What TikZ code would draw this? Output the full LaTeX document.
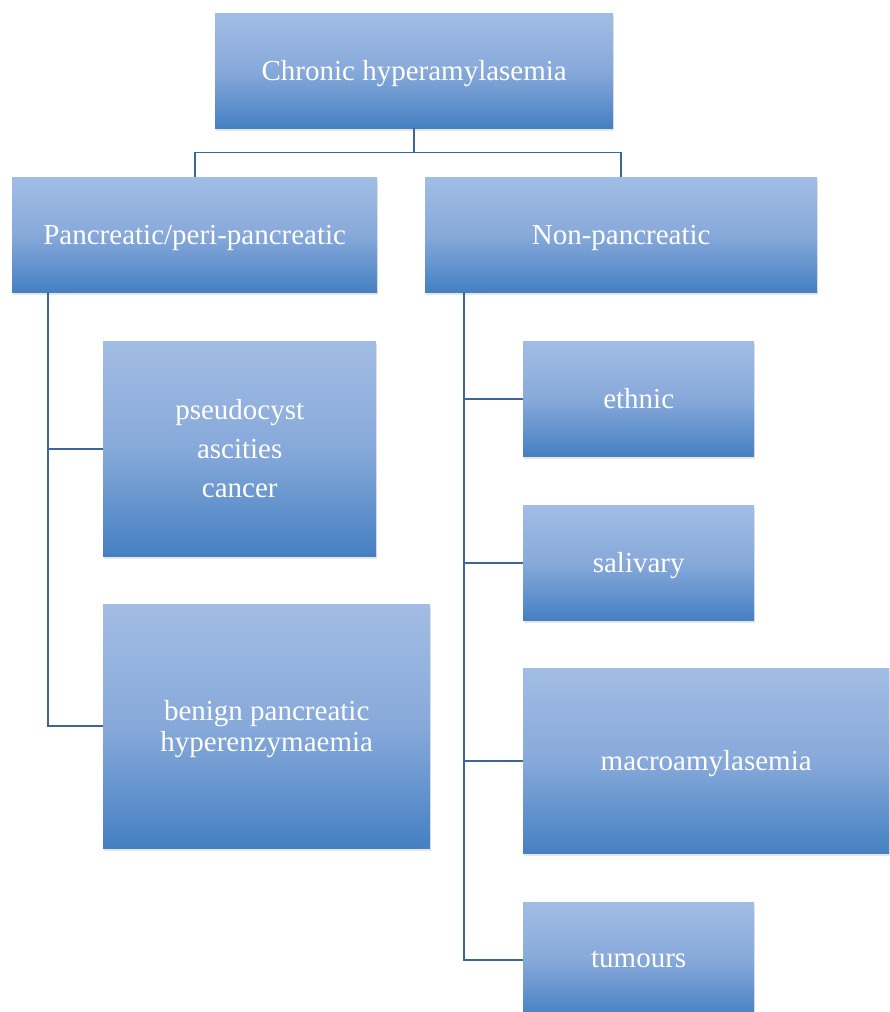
\documentclass[tikz,border=0pt]{standalone}
\usepackage{fontspec}
\setmainfont{Liberation Serif}
\usetikzlibrary{shadows}

\definecolor{boxtop}{HTML}{A2BDE4}
\definecolor{boxmid}{HTML}{87A9DA}
\definecolor{boxbot}{HTML}{4580C2}
\definecolor{wirecol}{HTML}{3E6597}

\tikzset{
  catbox/.style={anchor=north west, inner sep=0pt, text=white, align=center,
    top color=boxtop, bottom color=boxbot, middle color=boxmid,
    font=\fontsize{29}{31}\selectfont, text depth=-3pt,
    drop shadow={shadow xshift=1pt, shadow yshift=-3pt, opacity=0.2, fill=gray}},
  wire/.style={draw=wirecol, line width=1.7pt}
}

\begin{document}
\begin{tikzpicture}[x=1pt,y=-1pt]
\useasboundingbox (0,0) rectangle (889,1012);
% Drawing boxes
\node[catbox, minimum width=398pt, minimum height=115pt] (root) at (215,13) {Chronic hyperamylasemia};
\node[catbox, minimum width=365pt, minimum height=115pt] (panc) at (12,177) {Pancreatic/peri-pancreatic};
\node[catbox, minimum width=392pt, minimum height=115pt] (nonp) at (425,177) {Non-pancreatic};
% left column
\node[catbox, minimum width=273pt, minimum height=215pt, font=\fontsize{29}{39}\selectfont] (pseudo) at (103,341) {pseudocyst\\ascities\\cancer};
\node[catbox, minimum width=327pt, minimum height=244pt] (benign) at (103,604) {benign pancreatic\\hyperenzymaemia};
% right column
\node[catbox, minimum width=231pt, minimum height=115pt] (ethnic) at (523,341) {ethnic};
\node[catbox, minimum width=231pt, minimum height=115pt] (saliv) at (523,505) {salivary};
\node[catbox, minimum width=366pt, minimum height=185pt] (macro) at (523,668) {macroamylasemia};
\node[catbox, minimum width=231pt, minimum height=115pt] (tumour) at (523,902) {tumours};
% Drawing wires
\draw[wire] (root.south) -- ++(0,24) -| (panc.north);
\draw[wire] (root.south) ++(0,24) -| (nonp.north);
\coordinate (ltop) at (48,292);
\draw[wire] (ltop) |- (pseudo.west);
\draw[wire] (ltop) |- (benign.west);
\coordinate (rtop) at (464,292);
\draw[wire] (rtop) |- (ethnic.west);
\draw[wire] (rtop) |- (saliv.west);
\draw[wire] (rtop) |- (macro.west);
\draw[wire] (rtop) |- (tumour.west);
\end{tikzpicture}
\end{document}
